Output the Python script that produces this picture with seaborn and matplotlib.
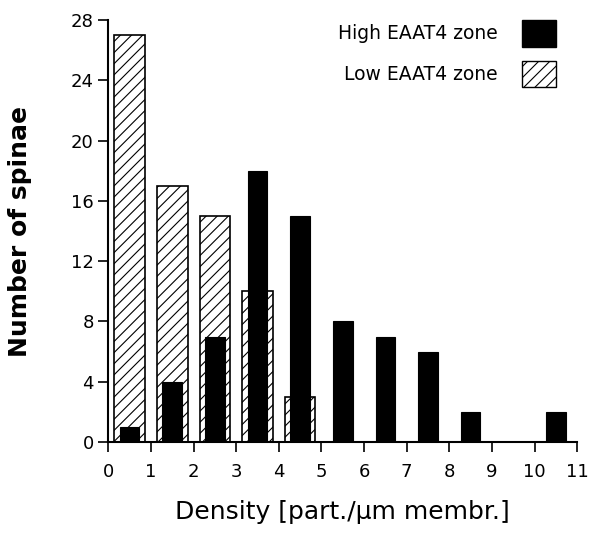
import numpy as np
import pandas as pd
import seaborn as sns
import matplotlib.pyplot as plt
from matplotlib.patches import Patch

# Histogram of particle density per spine
bins = list(range(11))
high_counts = [1, 4, 7, 18, 15, 8, 7, 6, 2, 0, 2]
low_counts = [27, 17, 15, 10, 3, 0, 0, 0, 0, 0, 0]
x_ticks = list(range(12))
y_ticks = [0, 4, 8, 12, 16, 20, 24, 28]

df = pd.DataFrame({'center': [b + 0.5 for b in bins],
                   'high': high_counts,
                   'low': low_counts})

sns.set_style('ticks')
plt.rcParams['font.family'] = ['DejaVu Sans']
plt.rcParams['hatch.linewidth'] = 0.8
plt.rcParams['text.color'] = 'black'
plt.rcParams['axes.labelcolor'] = 'black'

fig = plt.figure(figsize=(5.92, 5.45), dpi=100)
ax = fig.add_axes([0.183, 0.189, 0.792, 0.774])

sns.barplot(data=df, x='center', y='low', native_scale=True, width=0.72,
            color='white', edgecolor='black', linewidth=1.2, hatch='///',
            ax=ax)
sns.barplot(data=df, x='center', y='high', native_scale=True, width=0.46,
            color='black', edgecolor='black', linewidth=0.8, ax=ax)

ax.set_xlim(0, 11)
ax.set_ylim(0, 28)
ax.set_xticks(x_ticks)
ax.set_yticks(y_ticks)
ax.tick_params(axis='both', direction='out', length=7, width=1.2,
               labelsize=13, colors='black')
ax.tick_params(axis='x', pad=8)
for s in ['left', 'bottom']:
    ax.spines[s].set_linewidth(1.5)
    ax.spines[s].set_color('black')
sns.despine(ax=ax)

ax.set_xlabel('Density [part./\u03bcm membr.]', fontsize=18, labelpad=14)
ax.set_ylabel('Number of spinae', fontsize=18, labelpad=28, fontweight='bold')

handles = [Patch(facecolor='black', edgecolor='black', label='High EAAT4 zone'),
           Patch(facecolor='white', edgecolor='black', hatch='///',
                 label='Low EAAT4 zone')]
ax.legend(handles=handles, loc='upper right', bbox_to_anchor=(0.99, 1.04),
          frameon=False, markerfirst=False, fontsize=13.5,
          handlelength=1.8, handleheight=1.8, labelspacing=0.75,
          handletextpad=1.3)

fig.savefig('out.png', dpi=100)
